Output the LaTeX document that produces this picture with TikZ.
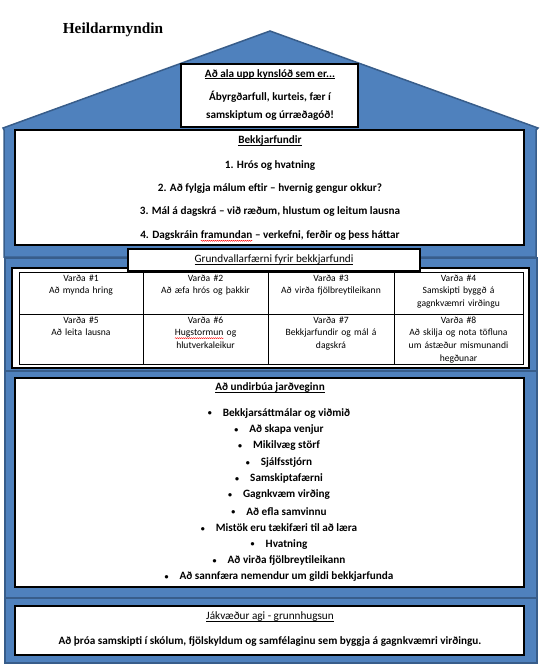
\documentclass[tikz,border=0pt]{standalone}
\usepackage{fontspec}
\setmainfont{Carlito}
\newfontfamily\headfont{Liberation Serif}
\usetikzlibrary{decorations.pathmorphing}
\definecolor{houseblue}{HTML}{4F81BD}
\definecolor{housedark}{HTML}{385D8A}
\newcommand\ulx[1]{\setbox0\hbox{#1}\rlap{\rule[-1.6pt]{\wd0}{0.6pt}}\box0}
\newcommand\squig[1]{\tikz[baseline=(sq.base)]{\node[inner sep=0pt,outer sep=0pt](sq){#1};\draw[red,line width=0.4pt,decorate,decoration={snake,amplitude=0.5pt,segment length=2pt}]([yshift=-2.4pt]sq.base west)--([yshift=-2.4pt]sq.base east);}}
\newcommand\smallbullet{\makebox[15pt][l]{\raisebox{0.3pt}{\fontsize{8}{8}\selectfont\textbullet}}}
\tikzset{
  house/.style={fill=houseblue, draw=housedark, line width=1.5pt},
  wbox/.style={draw=black, fill=white, line width=1.1pt, inner sep=0pt, outer sep=0pt, anchor=north west},
  boldtxt/.style={inner sep=0pt, font=\fontsize{11.2}{13.5}\selectfont\bfseries},
  regtxt/.style={inner sep=0pt, font=\fontsize{11.2}{13.5}\selectfont},
  celltxt/.style={inner sep=0pt, anchor=north, align=center, text width=118pt, font=\fontsize{9.6}{12.6}\selectfont},
  tline/.style={draw=black, line width=0.8pt},
}
\begin{document}
\begin{tikzpicture}[x=1pt,y=-1pt]
\useasboundingbox (0,0) rectangle (541,670);
% house shell
\draw[house] (4,257) -- (4,130) -- (3,128) -- (270,31) -- (538,128) -- (536,130) -- (536,257) -- cycle;
\node[house, anchor=north west, minimum width=532pt, minimum height=113pt, inner sep=0pt] (row2) at (4,257) {};
\node[house, anchor=north west, minimum width=532pt, minimum height=227pt, inner sep=0pt] (row3) at (4,370) {};
\node[house, anchor=north west, minimum width=532pt, minimum height=65pt, inner sep=0pt] (row4) at (4,597) {};

\node[inner sep=0pt, font=\headfont\bfseries\fontsize{15.3}{18}\selectfont] (title) at (113,30) {Heildarmyndin};

% roof box
\node[wbox, minimum width=177pt, minimum height=63pt] (roofbox) at (181,64) {};
\node[boldtxt] (r1) at (270,74) {\ulx{Að ala upp kynslóð sem er...}};
\node[boldtxt] (r2) at (270,97) {Ábyrgðarfull, kurteis, fær í};
\node[boldtxt] (r3) at (270,116) {samskiptum og úrræðagóð!};

% Bekkjarfundir
\node[wbox, minimum width=509pt, minimum height=115pt] (bekk) at (15,130) {};
\node[boldtxt] (b0) at (270,141) {\ulx{Bekkjarfundir}};
\node[boldtxt] (b1) at (270,166) {1. Hrós og hvatning};
\node[boldtxt] (b2) at (270,189) {2. Að fylgja málum eftir – hvernig gengur okkur?};
\node[boldtxt] (b3) at (270,212) {3. Mál á dagskrá – við ræðum, hlustum og leitum lausna};
\node[boldtxt] (b4) at (270,236) {4. Dagskráin \squig{framundan} – verkefni, ferðir og þess háttar};

% Grundvallarfaerni
\node[wbox, minimum width=517pt, minimum height=100pt] (gbox) at (12,268) {};
\node[wbox, minimum width=292pt, minimum height=22pt] (gtitle) at (128,249) {};
\node[regtxt] (g0) at (274,260) {\ulx{Grundvallarfærni fyrir bekkjarfundi}};
\node[wbox, line width=0.8pt, minimum width=504pt, minimum height=92pt] (table) at (19,272) {};
\coordinate (ta) at (143,272); \coordinate (tb) at (143,364);
\coordinate (tc) at (268,272); \coordinate (td) at (268,364);
\coordinate (te) at (394,272); \coordinate (tf) at (394,364);
\coordinate (tg) at (19,314); \coordinate (th) at (523,314);
\draw[tline] (ta) -- (tb);
\draw[tline] (tc) -- (td);
\draw[tline] (te) -- (tf);
\draw[tline] (tg) -- (th);
\node[celltxt] (c1) at (81,274.5) {Varða \#1\\Að mynda hring};
\node[celltxt] (c2) at (205.5,274.5) {Varða \#2\\Að æfa hrós og þakkir};
\node[celltxt] (c3) at (331,274.5) {Varða \#3\\Að virða fjölbreytileikann};
\node[celltxt] (c4) at (458.5,274.5) {Varða \#4\\Samskipti byggð á\\gagnkvæmri virðingu};
\node[celltxt] (c5) at (81,316.5) {Varða \#5\\Að leita lausna};
\node[celltxt] (c6) at (205.5,316.5) {Varða \#6\\\squig{Hugstormun} og\\hlutverkaleikur};
\node[celltxt] (c7) at (331,316.5) {Varða \#7\\Bekkjarfundir og mál á\\dagskrá};
\node[celltxt] (c8) at (458.5,316.5) {Varða \#8\\Að skilja og nota töfluna\\um ástæður mismunandi\\hegðunar};

% Ad undirbua
\node[wbox, minimum width=509pt, minimum height=209pt] (ubox) at (15,378) {};
\node[boldtxt] (u0) at (270,388) {\ulx{Að undirbúa jarðveginn}};
\foreach \t [count=\i from 0] in {Bekkjarsáttmálar og viðmið, Að skapa venjur, Mikilvæg störf, Sjálfsstjórn, Samskiptafærni, Gagnkvæm virðing, Að efla samvinnu, Mistök eru tækifæri til að læra, Hvatning, Að virða fjölbreytileikann, Að sannfæra nemendur um gildi bekkjarfunda}
  \node[boldtxt] (u\i) at (279,413.3+16.34*\i) {\smallbullet\t};

% Jakvaedur agi
\node[wbox, minimum width=509pt, minimum height=49pt] (jbox) at (15,606) {};
\node[regtxt] (j0) at (270,617) {\ulx{Jákvæður agi - grunnhugsun}};
\node[boldtxt] (j1) at (270,642) {Að þróa samskipti í skólum, fjölskyldum og samfélaginu sem byggja á gagnkvæmri virðingu.};
\end{tikzpicture}
\end{document}
